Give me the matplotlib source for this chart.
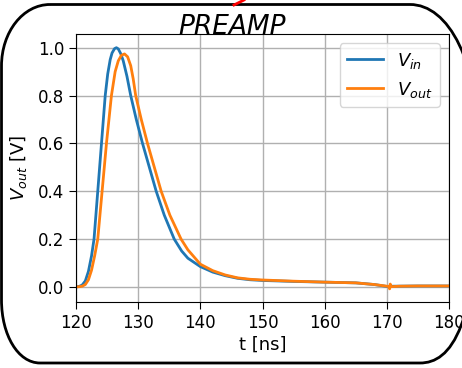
import matplotlib
matplotlib.use("Agg")
import matplotlib.pyplot as plt
from matplotlib.patches import PathPatch
from matplotlib.path import Path
from matplotlib.lines import Line2D

# values
t_in = [120, 120.5, 121, 121.5, 122, 122.5, 122.9, 123.5, 124.1, 124.7, 125.1, 125.5,
        125.8, 126.2, 126.5, 126.8, 127.2, 127.6, 128.2, 128.8, 129.7, 130.7, 131.8, 132.9,
        134.2, 135.8, 137, 138, 140, 142, 144, 146, 148, 150, 155, 160, 165, 168, 170,
        171, 175, 180]
v_in = [0.0, 0.002, 0.008, 0.025, 0.065, 0.13, 0.2, 0.4, 0.6, 0.8, 0.89, 0.95,
        0.978, 0.996, 1.0, 0.995, 0.975, 0.945, 0.88, 0.8, 0.7, 0.6, 0.5, 0.4,
        0.3, 0.2, 0.15, 0.12, 0.085, 0.062, 0.047, 0.036, 0.03, 0.027, 0.023, 0.02, 0.017, 0.01, 0.002,
        0.003, 0.004, 0.004]

t_out = [120, 120.5, 121, 121.5, 122, 122.5, 123, 123.5, 124.2, 124.9, 125.7, 126.3,
         126.8, 127.3, 127.8, 128.3, 128.8, 129.2, 129.6, 130.5, 131.5, 132.6, 133.7, 135.1,
         136.9, 138, 140, 142, 144, 146, 148, 150, 155, 160, 165, 168, 170.3, 170.45, 170.55,
         170.7, 172, 175, 180]
v_out = [0.0, 0.001, 0.003, 0.01, 0.03, 0.07, 0.13, 0.2, 0.4, 0.6, 0.8, 0.9,
         0.945, 0.968, 0.974, 0.962, 0.925, 0.87, 0.8, 0.7, 0.6, 0.5, 0.4, 0.3,
         0.2, 0.155, 0.095, 0.068, 0.05, 0.038, 0.032, 0.029, 0.024, 0.02, 0.017, 0.01, 0.002, -0.008, 0.012,
         0.001, 0.003, 0.004, 0.004]

x_ticks = [120, 130, 140, 150, 160, 170, 180]
y_ticks = [0.0, 0.2, 0.4, 0.6, 0.8, 1.0]

W, H = 462, 368
K = 0.5523  # bezier constant for a quarter ellipse

# frame corners in pixels from the top-left of the picture: (x, y)
frame_pts = [
    # top edge, then down the right side (off canvas), bottom, left side
    (50, 4.5), (410, 4.5),
    (448, 4.5), (480, 60), (480, 160),
    (480, 240),
    (480, 330), (450, 363), (420, 363),
    (40, 363),
    (18, 363), (1.5, 335), (1.5, 300),
    (1.5, 66),
    (1.5, 32), (23, 4.5), (50, 4.5),
]
frame_codes = [Path.MOVETO, Path.LINETO,
               Path.CURVE4, Path.CURVE4, Path.CURVE4,
               Path.LINETO,
               Path.CURVE4, Path.CURVE4, Path.CURVE4,
               Path.LINETO,
               Path.CURVE4, Path.CURVE4, Path.CURVE4,
               Path.LINETO,
               Path.CURVE4, Path.CURVE4, Path.CURVE4]

fig = plt.figure(figsize=(W / 100, H / 100), dpi=100)
ax = fig.add_axes([76 / W, (H - 302) / H, (449 - 76) / W, (302 - 34.3) / H])

ax.plot(t_in, v_in, color="#1f77b4", lw=2, label="$V_{in}$")
ax.plot(t_out, v_out, color="#ff7f0e", lw=2, label="$V_{out}$")

ax.set_xlim(120, 180)
ax.set_ylim(-0.063, 1.056)
ax.set_xticks(x_ticks)
ax.set_yticks(y_ticks)
ax.tick_params(labelsize=12, length=5)
ax.grid(True, color="#b0b0b0", lw=1)
ax.set_xlabel("t [ns]", fontsize=13, labelpad=3)
ax.set_ylabel("$V_{out}$ [V]", fontsize=13, labelpad=6)
ax.legend(loc="upper right", fontsize=13)

# title above the axes
fig.text(232 / W, 1 - 34 / H, "PREAMP", fontsize=19, style="italic",
         ha="center", va="baseline")

# rounded frame around the plot (screenshot border, runs off the right edge)
verts = [(x / W, 1 - y / H) for x, y in frame_pts]
frame = PathPatch(Path(verts, frame_codes), transform=fig.transFigure,
                  fill=False, ec="black", lw=2, clip_on=False)
fig.add_artist(frame)

# red arrow stub at the top
fig.add_artist(Line2D([244 / W, 234 / W], [1.0, 1 - 5 / H], color="red", lw=2,
                      transform=fig.transFigure))

fig.savefig("out.png", dpi=100)
